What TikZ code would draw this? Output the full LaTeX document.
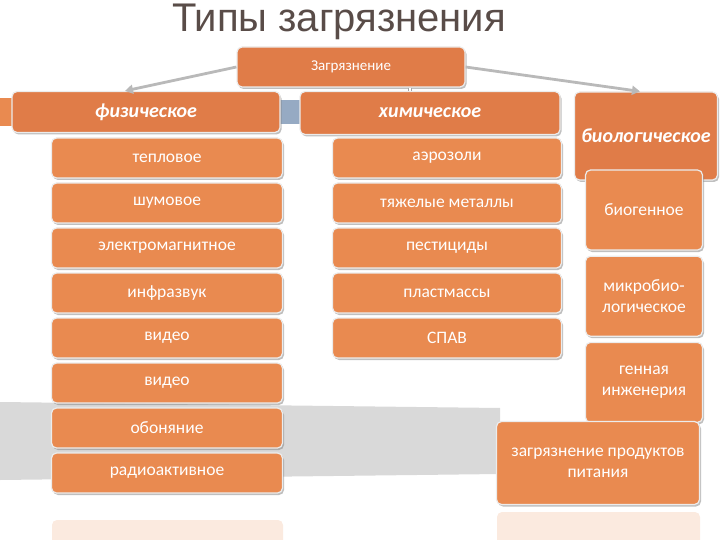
\documentclass[tikz,border=0pt]{standalone}
\usepackage{fontspec}
\setmainfont{Carlito}
\newfontfamily\titlefont{Liberation Sans}
\usetikzlibrary{arrows.meta, positioning, shadows}
\definecolor{boxorange}{RGB}{233,138,80}
\definecolor{headorange}{RGB}{224,124,72}
\definecolor{titlegray}{RGB}{89,76,72}
\definecolor{barblue}{RGB}{150,170,195}
\tikzset{
  item/.style={draw=white!85!gray, line width=1.2pt, fill=boxorange, rounded corners=5pt,
    text=white, font=\fontsize{17.5}{21}\selectfont, align=center, inner sep=2pt,
    drop shadow={shadow xshift=1.5pt, shadow yshift=-2pt, opacity=0.5}},
  head/.style={item, fill=headorange, font=\fontsize{20}{24}\selectfont\bfseries\itshape},
  conn/.style={draw=gray!55, line width=2.8pt, -{Triangle[length=8pt, width=9pt]}}
}
\begin{document}
\begin{tikzpicture}[x=1pt, y=-1pt]
    \useasboundingbox (0,0) rectangle (720,540);

    % floor and reflections
    \fill[gray!30] (0,402) -- (500,408) -- (500,474) -- (0,480) -- cycle;
    \fill[boxorange!18, rounded corners=5pt] (52,520) rectangle (283,545);
    \fill[boxorange!18, rounded corners=5pt] (497,512) rectangle (700,545);
    \fill[barblue] (0,100) rectangle (300,124);
    \fill[boxorange] (0,98) rectangle (14,126);

    % title and root
    \node[text=titlegray, font=\titlefont\fontsize{40}{44}\selectfont] (title) at (339,22) {Типы загрязнения};
    \node[item, fill=headorange, font=\fontsize{15}{18}\selectfont, minimum width=228pt, minimum height=40pt] (root) at (351,67) {Загрязнение};

    % three groups
    \node[head, minimum width=268pt, minimum height=41pt] (phys) at (146,112) {физическое};
    \node[head, minimum width=260pt, minimum height=43pt] (chem) at (430,113) {химическое};
    \node[head, minimum width=143pt, minimum height=88pt] (bio) at (646,136) {биологическое};

    % physical
    \foreach \txt [count=\i] in {тепловое, шумовое, электромагнитное, инфразвук, видео, видео, обоняние, радиоактивное} {
      \pgfmathsetmacro\ypos{158+45*(\i-1)}
      \node[item, minimum width=231pt, minimum height=40pt] (p\i) at (167,\ypos) {\txt};
    }

    % chemical
    \foreach \txt [count=\i] in {аэрозоли, тяжелые металлы, пестициды, пластмассы, СПАВ} {
      \pgfmathsetmacro\ypos{158+45*(\i-1)}
      \node[item, minimum width=229pt, minimum height=40pt] (c\i) at (447,\ypos) {\txt};
    }

    % biological
    \node[item, minimum width=117pt, minimum height=80pt] (b1) at (644,210) {биогенное};
    \node[item, minimum width=117pt, minimum height=80pt, below=5pt of b1] (b2) {микробио-\\логическое};
    \node[item, minimum width=117pt, minimum height=80pt, below=5pt of b2] (b3) {генная\\инженерия};
    \node[item, minimum width=203pt, minimum height=83pt] (b4) at (598,463) {загрязнение продуктов\\питания};

    % connectors
    \draw[conn] (root.west) -- ([xshift=-21pt]phys.north);
    \draw[conn] (root.east) -- ([xshift=-6pt]bio.north);
    \draw[double, gray!70, line width=0.8pt, double distance=1.5pt] ([xshift=59pt]root.south) -- ([xshift=-20pt]chem.north);
\end{tikzpicture}
\end{document}
